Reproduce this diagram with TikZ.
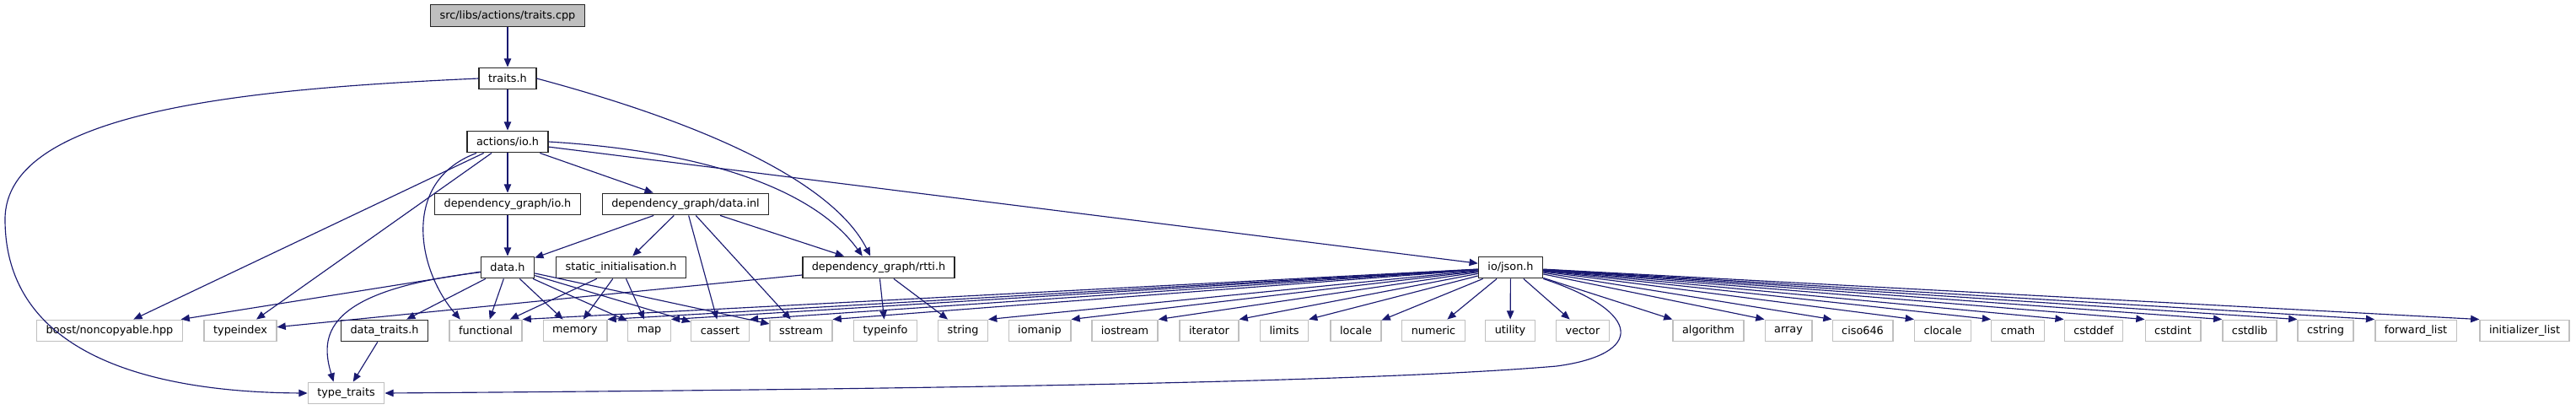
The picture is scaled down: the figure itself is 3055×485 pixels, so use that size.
\documentclass[tikz,border=0pt]{standalone}
\usepackage{fontspec}
\setmainfont{DejaVu Sans}
\usepackage{tikz}
\usetikzlibrary{arrows.meta}
\definecolor{edgec}{RGB}{25,25,112}
\definecolor{extc}{RGB}{191,191,191}
\definecolor{rootc}{RGB}{191,191,191}

\begin{document}
\begin{tikzpicture}[x=0.02cm,y=-0.02cm,>={Triangle[length=5.8pt,width=4.8pt]},
  hdr/.style={draw=black!85,line width=0.8pt,fill=white,minimum height=0.51cm,inner xsep=0.22cm,inner ysep=0pt,font=\fontsize{7.3}{8}\selectfont},
  sysh/.style={hdr,draw=extc},
  dep/.style={->,edgec,line width=0.65pt}]
\useasboundingbox (0,0) rectangle (3055,485);
\node[hdr,fill=rootc] (root) at (602,18.5){src/libs/actions/traits.cpp};
\node[hdr] (traits) at (602,93){traits.h};
\node[hdr] (aio) at (602,168){actions/io.h};
\node[hdr] (depio) at (602,242){dependency\_graph/io.h};
\node[hdr] (datainl) at (813,242){dependency\_graph/data.inl};
\node[hdr] (datah) at (602,317){data.h};
\node[hdr] (statinit) at (736.5,317){static\_initialisation.h};
\node[hdr] (rtti) at (1042,317){dependency\_graph/rtti.h};
\node[hdr] (json) at (1791.5,317){io/json.h};
\node[sysh] (noncopy) at (130,392){boost/noncopyable.hpp};
\node[hdr] (datatraits) at (456,392){data\_traits.h};
\foreach \nm/\cx in {typeindex/285,functional/576,memory/682,map/770,cassert/854,sstream/950,typeinfo/1050,string/1142,iomanip/1233,iostream/1334,iterator/1434,limits/1523,locale/1608,numeric/1700,utility/1791,vector/1877,algorithm/2026,array/2121,ciso646/2209,clocale/2304,cmath/2393,cstddef/2483,cstdint/2577,cstdlib/2668,cstring/2758}{ \node[sysh] (\nm) at (\cx,392){\nm}; }
\node[sysh] (fwdlist) at (2865,392){forward\_list};
\node[sysh] (initlist) at (2994,392){initializer\_list};
\node[sysh] (tt) at (410.5,466){type\_traits};
% top of the graph
\draw[dep] (root)--(traits); \draw[dep] (traits)--(aio);
\draw[dep] (traits.west) .. controls (300,105) and (6,130) .. (6,260) .. controls (6,430) and (200,465) .. (tt.west);
\draw[dep] (traits.east) .. controls (850,150) and (990,220) .. (rtti.126);
\draw[dep] (aio.east) .. controls (850,180) and (970,230) .. (rtti.145);
\draw[dep] (aio.200) .. controls (475,215) and (495,320) .. (functional.156);
\foreach \t in {noncopy,typeindex,depio,datainl,json}{ \draw[dep] (aio)--(\t); }
% middle rows
\draw[dep] (depio)--(datah);
\foreach \t in {datah,statinit,cassert,sstream,rtti}{ \draw[dep] (datainl)--(\t); }
\foreach \t in {noncopy,datatraits,functional,memory,map,cassert,sstream}{ \draw[dep] (datah)--(\t); }
\draw[dep] (datah.190) .. controls (380,345) and (380,400) .. (tt.138);
\foreach \t in {functional,memory,map}{ \draw[dep] (statinit)--(\t); }
\foreach \t in {typeindex,typeinfo,string}{ \draw[dep] (rtti)--(\t); }
\draw[dep] (datatraits)--(tt);
% io/json.h fan
\foreach \t in {functional,memory,map,cassert,sstream,string,iomanip,iostream,iterator,limits}{ \draw[dep] (json)--(\t.north east); }
\foreach \t in {locale,numeric,utility,vector}{ \draw[dep] (json)--(\t); }
\foreach \t in {algorithm,array,ciso646,clocale,cmath,cstddef,cstdint,cstdlib,cstring,fwdlist,initlist}{ \draw[dep] (json)--(\t.north west); }
\draw[dep] (json.south east) .. controls (1950,370) and (1950,420) .. (1846,434) .. controls (1600,455) and (1000,462) .. (tt.east);
\end{tikzpicture}
\end{document}
